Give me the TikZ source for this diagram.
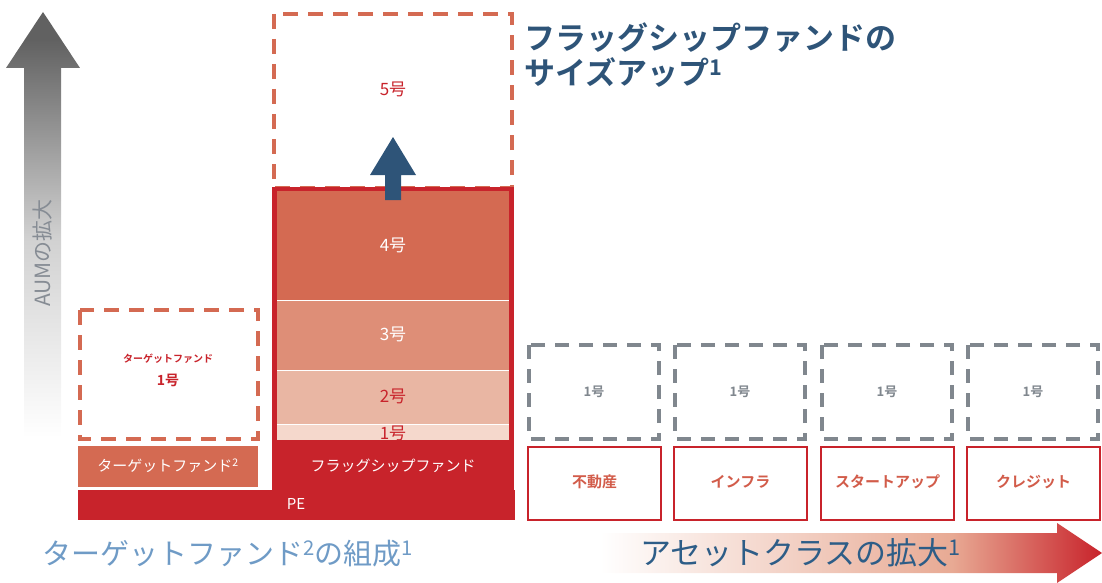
\documentclass[tikz,border=0pt]{standalone}
\usepackage{fontspec}
\setmainfont{Noto Sans CJK JP}[BoldFont={Noto Sans CJK JP Bold}]
\usetikzlibrary{calc}
\definecolor{cred}{HTML}{C8232B}
\definecolor{corange}{HTML}{D46A52}
\definecolor{cthree}{HTML}{DE8E77}
\definecolor{ctwo}{HTML}{E9B6A3}
\definecolor{cone}{HTML}{F5D8CC}
\definecolor{cgray}{HTML}{80878E}
\definecolor{ctitle}{HTML}{2E5478}
\definecolor{clblue}{HTML}{6F9BC6}
\definecolor{crblue}{HTML}{2D5D87}
\definecolor{caum}{HTML}{868C94}
\definecolor{csalmon}{HTML}{E8AA94}
\pgfdeclarehorizontalshading{assetshade}{100bp}{color(0bp)=(white); color(25bp)=(white); color(60bp)=(csalmon); color(75bp)=(cred); color(100bp)=(cred)}
\pgfdeclareverticalshading{aumshade}{100bp}{color(0bp)=(white); color(28bp)=(white); color(50bp)=(black!18); color(72bp)=(black!62); color(100bp)=(black!62)}
\tikzset{
  dashbox/.style={draw=corange, line width=3.5pt, dash pattern=on 15pt off 10pt},
  graybox/.style={draw=cgray, line width=3.5pt, dash pattern=on 14pt off 10pt},
  assetbox/.style={draw=cred, line width=1.2pt, fill=white},
  lbl/.style={font=\fontsize{15}{17}\selectfont\bfseries, inner sep=0pt},
}
\begin{document}
\begin{tikzpicture}[x=1pt,y=-1pt]
\useasboundingbox (0,0) rectangle (1102,583);
% left gray arrow
\shade[shading=aumshade] (43,12) -- (80,68) -- (61,68) -- (61,465) -- (24,465) -- (24,68) -- (6,68) -- cycle;
\node[rotate=90, text=caum, font=\fontsize{21}{23}\selectfont, inner sep=0pt] (aum) at (43,253) {AUMの拡大};

% target fund dashed box
\draw[dashbox] (80,310) rectangle (258,439);
\node[text=cred, font=\fontsize{10}{12}\selectfont\bfseries, inner sep=0pt] (tgtname) at (168,359) {ターゲットファンド};
\node[text=cred, font=\fontsize{14}{16}\selectfont\bfseries, inner sep=0pt] (tgt1) at (168,380) {1号};
% target fund bar
\fill[corange] (78,446) rectangle (258,487);
\node[lbl, text=white, font=\fontsize{15}{17}\selectfont] (tgtbar) at (168,466) {ターゲットファンド\textsuperscript{2}};
% PE bar
\fill[cred] (78,490) rectangle (515,520);
\node[lbl, text=white, font=\fontsize{15}{17}\selectfont] (pe) at (296,504) {PE};

% flagship 5 dashed box
\draw[dashbox] (274,14) rectangle (512,188);
\node[text=cred, font=\fontsize{17}{19}\selectfont, inner sep=0pt] (f5) at (393,89) {5号};

% flagship segments
\fill[corange] (274,189) rectangle (512,300);
\fill[cthree] (274,301) rectangle (512,370);
\fill[ctwo] (274,371) rectangle (512,424);
\fill[cone] (274,425) rectangle (512,440);
\draw[white, line width=1pt] (274,300.5) -- (512,300.5) (274,370.5) -- (512,370.5) (274,424.5) -- (512,424.5);
\draw[cred, line width=4.5pt] (274.5,440) -- (274.5,189) -- (511.5,189) -- (511.5,440);
\node[text=white, font=\fontsize{17}{19}\selectfont, inner sep=0pt] (f4) at (393,245) {4号};
\node[text=white, font=\fontsize{17}{19}\selectfont, inner sep=0pt] (f3) at (393,334) {3号};
\node[text=cred, font=\fontsize{17}{19}\selectfont, inner sep=0pt] (f2) at (393,396) {2号};
\begin{scope}
\clip (274,425) rectangle (512,440);
\node[text=cred, font=\fontsize{17}{19}\selectfont, inner sep=0pt] (f1) at (393,433) {1号};
\end{scope}
% flagship bar
\fill[cred] (272,440) rectangle (514,490);
\node[lbl, text=white, font=\fontsize{15}{17}\selectfont] (flagbar) at (393,466) {フラッグシップファンド};

% blue arrow
\fill[ctitle] (393,137) -- (416,175) -- (401,175) -- (401,200) -- (385,200) -- (385,175) -- (370,175) -- cycle;

% title
\node[anchor=west, text=ctitle, font=\fontsize{31}{35}\selectfont\bfseries, inner sep=0pt, align=left] (title) at (524,55) {フラッグシップファンドの\\サイズアップ\textsuperscript{1}};

% asset classes
\foreach \x/\t/\n in {527/不動産/a, 673/インフラ/b, 820/スタートアップ/c, 966/クレジット/d}{
  \draw[graybox] (\x+2,345) rectangle (\x+132,439);
  \node[text=cgray, font=\fontsize{13}{15}\selectfont\bfseries, inner sep=0pt] (g\n) at (\x+67,392) {1号};
  \draw[assetbox] (\x+1,447) rectangle (\x+134,520);
  \node[lbl, text=corange!80!cred] (as\n) at (\x+67.5,482) {\t};
}

% bottom left text
\node[anchor=west, text=clblue, font=\fontsize{29}{31}\selectfont, inner sep=0pt] (bl) at (42,554) {ターゲットファンド\textsuperscript{2}の組成\textsuperscript{1}};

% bottom right arrow
\shade[shading=assetshade] (600,533) -- (1057,533) -- (1057,523) -- (1102,553) -- (1057,583) -- (1057,573) -- (600,573) -- cycle;
\node[anchor=west, text=crblue, font=\fontsize{31}{33}\selectfont, inner sep=0pt] (br) at (640,553) {アセットクラスの拡大\textsuperscript{1}};
\end{tikzpicture}
\end{document}
